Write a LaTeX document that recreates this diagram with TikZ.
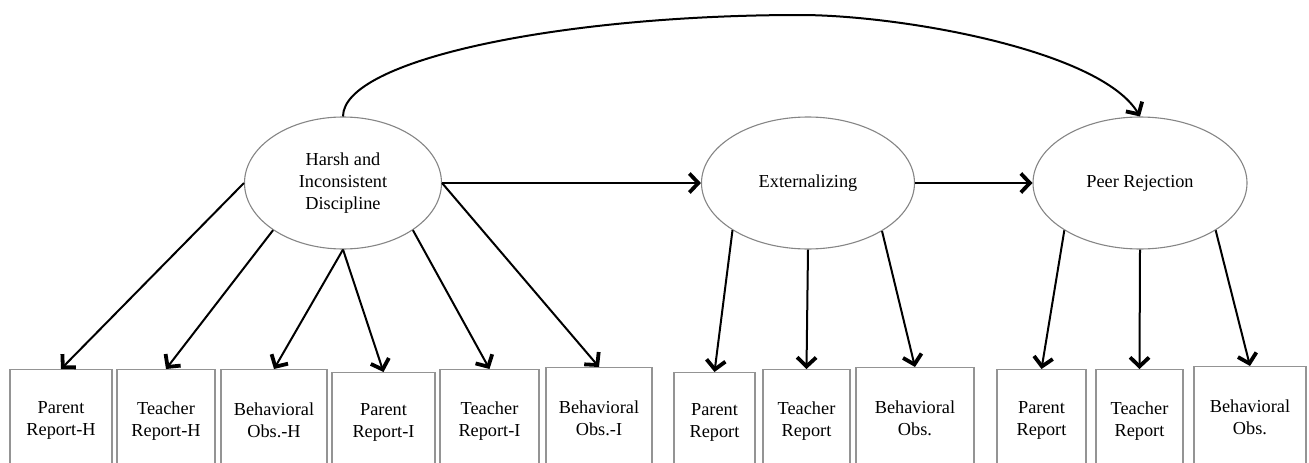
\documentclass[tikz,border=0pt]{standalone}
\usepackage{fontspec}
\setmainfont{Liberation Serif}
\usetikzlibrary{shapes.geometric,arrows.meta}
\begin{document}
\begin{tikzpicture}[x=1pt,y=-1pt,
  txt/.style={align=center, font=\fontsize{18.3}{22}\selectfont},
  latent/.style={txt, ellipse, draw=black!48, line width=1.1pt, inner sep=0pt,
    minimum height=132pt},
  indicator/.style={txt, rectangle, draw=black!42, line width=1.4pt, anchor=north,
    inner sep=0pt},
  path/.style={draw=black, line width=2pt,
    -{Straight Barb[length=9pt, width=19pt, line width=3.8pt]}},
]
% page frame; the indicator boxes run past its lower edge
\clip (0,0) rectangle (1309,463);

% latent constructs
\node[latent, minimum width=197pt] (harsh) at (343,183) {Harsh and\\Inconsistent\\Discipline};
\node[latent, minimum width=213pt] (ext)   at (808,183) {Externalizing};
\node[latent, minimum width=214pt] (peer)  at (1140,183) {Peer Rejection};

% observed indicators
\node[indicator, minimum width=102pt, minimum height=102pt] (h1) at (61,369)    {Parent\\Report-H};
\node[indicator, minimum width=98pt,  minimum height=102pt] (h2) at (166,369)   {Teacher\\Report-H};
\node[indicator, minimum width=106pt, minimum height=102pt] (h3) at (274,369)   {Behavioral\\Obs.-H};
\node[indicator, minimum width=103pt, minimum height=100pt] (h4) at (383.5,372) {Parent\\Report-I};
\node[indicator, minimum width=99pt,  minimum height=102pt] (h5) at (489.5,369) {Teacher\\Report-I};
\node[indicator, minimum width=106pt, minimum height=102pt] (h6) at (599,367)   {Behavioral\\Obs.-I};

\node[indicator, minimum width=81pt,  minimum height=100pt] (e1) at (714.5,372) {Parent\\Report};
\node[indicator, minimum width=87pt,  minimum height=102pt] (e2) at (806.5,369) {Teacher\\Report};
\node[indicator, minimum width=118pt, minimum height=102pt] (e3) at (915,367)   {Behavioral\\Obs.};

\node[indicator, minimum width=89pt,  minimum height=102pt] (p1) at (1041.5,369) {Parent\\Report};
\node[indicator, minimum width=87pt,  minimum height=102pt] (p2) at (1139.5,369) {Teacher\\Report};
\node[indicator, minimum width=112pt, minimum height=102pt] (p3) at (1250,366)   {Behavioral\\Obs.};

% structural paths
\draw[path] (harsh.east) -- (ext.west);
\draw[path] (ext.east) -- (peer.west);
\draw[path] (harsh.north) .. controls (343,60) and (560,15) .. (800,15)
                          .. controls (900,15) and (1100,50) .. (peer.north);

% measurement paths
\draw[path] (harsh.west) -- (h1.north);
\draw[path] (harsh.214)  -- (h2.north);
\draw[path] (harsh.south) -- (h3.north);
\draw[path] (harsh.south) -- (h4.north);
\draw[path] (harsh.326)  -- (h5.north);
\draw[path] (harsh.east) -- (h6.north);

\draw[path] (ext.212)   -- (e1.north);
\draw[path] (ext.south) -- (e2.north);
\draw[path] (ext.327)   -- (e3.north);

\draw[path] (peer.212)   -- (p1.north);
\draw[path] (peer.south) -- (p2.north);
\draw[path] (peer.328)   -- (p3.north);
\end{tikzpicture}
\end{document}
